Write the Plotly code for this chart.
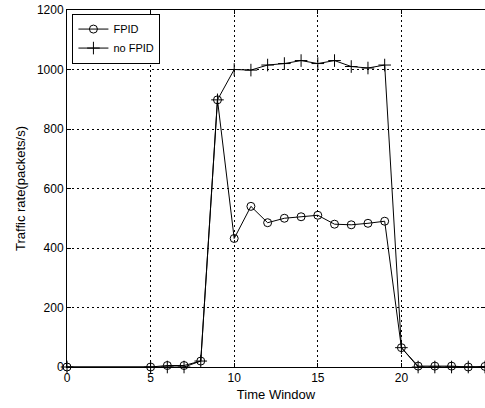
import plotly.graph_objects as go

# Time windows and measured traffic rates (packets/s)
time_window = [0, 5, 6, 7, 8, 9, 10, 11, 12, 13, 14, 15, 16, 17, 18, 19, 20, 21, 22, 23, 24, 25]
rate_fpid = [0, 0, 5, 5, 20, 898, 432, 540, 485, 500, 505, 510, 480, 478, 483, 490, 65, 3, 3, 3, 0, 2]
rate_no_fpid = [0, 0, 0, 0, 20, 898, 1000, 998, 1015, 1020, 1030, 1020, 1030, 1010, 1005, 1015, 65, 0, 0, 0, 0, 0]

x_ticks = [0, 5, 10, 15, 20, 25]
y_ticks = [0, 200, 400, 600, 800, 1000, 1200]

FONT = "Liberation Sans Narrow, Arial Narrow, Liberation Sans, Arial, sans-serif"

fig = go.Figure()
fig.add_trace(go.Scatter(
    x=time_window, y=rate_fpid, name="FPID", mode="lines+markers",
    line=dict(color="black", width=1),
    marker=dict(symbol="circle-open", size=8, color="black", line=dict(width=1)),
    cliponaxis=False,
))
fig.add_trace(go.Scatter(
    x=time_window, y=rate_no_fpid, name="no FPID", mode="lines+markers",
    line=dict(color="black", width=1),
    marker=dict(symbol="cross-thin-open", size=9, color="black", line=dict(width=1, color="black")),
    cliponaxis=False,
))

axis_common = dict(
    showline=True, linecolor="black", linewidth=1, mirror="ticks",
    ticks="inside", ticklen=4, tickcolor="black",
    showgrid=True, gridcolor="black", gridwidth=1, griddash="2px,3px",
    zeroline=False,
    tickfont=dict(family=FONT, size=12, color="black"),
)

fig.update_xaxes(
    range=[0, 25], tickvals=x_ticks, ticktext=[str(v) for v in x_ticks],
    title=dict(text="Time Window", font=dict(family=FONT, size=13, color="black"), standoff=5),
    **axis_common,
)
fig.update_yaxes(
    range=[0, 1200], tickvals=y_ticks, ticktext=[str(v) for v in y_ticks],
    title=dict(text="Traffic rate(packets/s)", font=dict(family=FONT, size=13, color="black"), standoff=8),
    **axis_common,
)

fig.update_layout(
    width=485, height=408,
    margin=dict(l=67, r=0, t=10, b=41),
    paper_bgcolor="white", plot_bgcolor="white",
    showlegend=True,
    legend=dict(
        x=0.013, y=0.99, xanchor="left", yanchor="top",
        bgcolor="white", bordercolor="black", borderwidth=1,
        font=dict(family=FONT, size=11, color="black"),
        itemwidth=30, tracegroupgap=0,
    ),
)

fig.write_html("out.html")
